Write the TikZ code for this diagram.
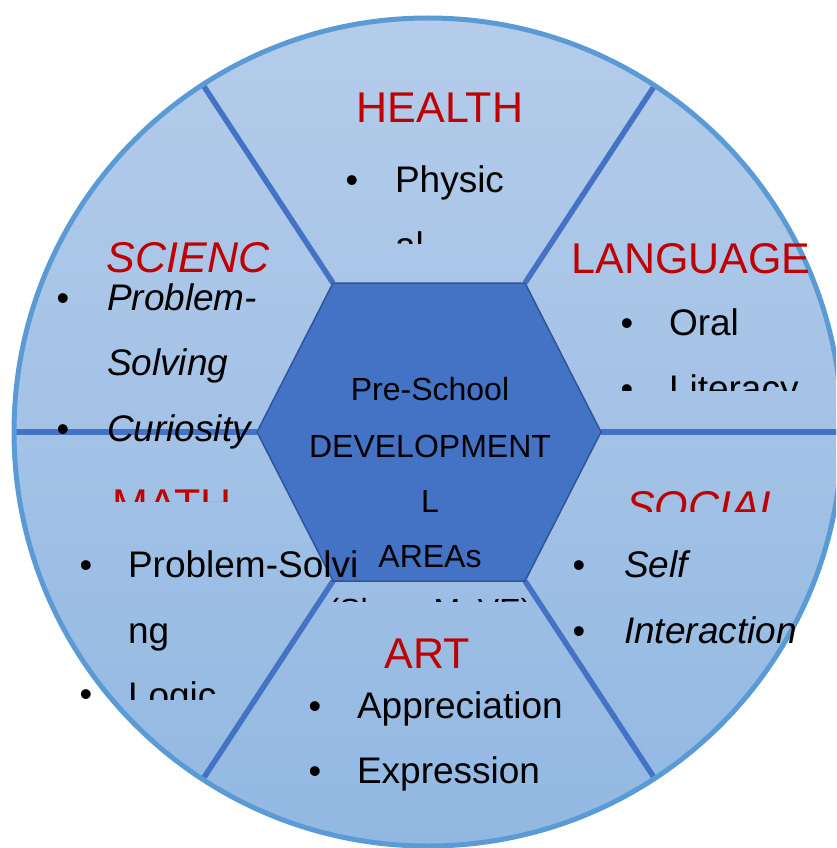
\documentclass[tikz,border=0pt]{standalone}
\usepackage{fontspec}
\setmainfont{Liberation Sans}
\usepackage{tikz}
\definecolor{area_red}{RGB}{192, 0, 0}
\definecolor{rim_blue}{RGB}{91, 155, 213}
\definecolor{line_blue}{RGB}{68, 114, 196}
\definecolor{hex_blue}{RGB}{68, 114, 196}
\definecolor{hex_edge}{RGB}{47, 85, 151}
\definecolor{fill_top}{RGB}{180, 204, 234}
\definecolor{fill_bottom}{RGB}{146, 184, 226}

\begin{document}
\begin{tikzpicture}[x=1pt, y=-1pt,
    every node/.style={inner sep=0pt, outer sep=0pt},
    areatitle/.style={anchor=base, text=area_red, font=\fontsize{43}{43}\selectfont},
    areaital/.style={areatitle, font=\fontsize{43}{43}\selectfont\itshape},
    areaitem/.style={anchor=base west, font=\fontsize{37}{37}\selectfont},
    areaslant/.style={areaitem, font=\fontsize{37}{37}\selectfont\itshape},
    areadot/.style={anchor=base, font=\fontsize{36}{36}\selectfont},
    centretext/.style={anchor=base, font=\fontsize{32}{32}\selectfont},
    divider/.style={line width=5.5pt, draw=line_blue}]

    \clip (0,0) rectangle (836,848);

    % Wheel
    \shade[top color=fill_top, bottom color=fill_bottom] (428,432) circle[radius=414pt];

    % Hexagon corners and rim points
    \foreach \n/\hx/\hy/\rx/\ry in {1/257/432/14/432, 2/333/283/203/85, 3/525/283/655/85,
                                   4/601/432/842/432, 5/525/581/655/779, 6/333/581/203/779} {
      \coordinate (h\n) at (\hx,\hy);
      \coordinate (r\n) at (\rx,\ry);
    }

    % Dividers
    \foreach \n in {1,...,6}
      \draw[divider] (h\n) -- (r\n);

    % Centre hexagon
    \draw[fill=hex_blue, draw=hex_edge, line width=1.5pt]
      (h1) -- (h2) -- (h3) -- (h4) -- (h5) -- (h6) -- cycle;

    % Rim
    \draw[rim_blue, line width=5pt] (428,432) circle[radius=414pt];

    % Centre text
    \node[centretext] (pre) at (430,400) {Pre-School};
    \node[centretext] (dev) at (430,457) {DEVELOPMENT};
    \node[centretext] (devl) at (430,512) {L};
    \node[centretext] (areas) at (430,567) {AREAs};
    \begin{scope}
      \clip (300,560) rectangle (560,601);
      \node[centretext] (sub) at (430,621) {(Share MoVE)};
    \end{scope}

    % Health
    \node[areatitle] (health) at (440,122) {HEALTH};
    \node[areadot] (hdot) at (352,192) {•};
    \node[areaitem] (phys) at (395,192) {Physic};
    \begin{scope}
      \clip (300,200) rectangle (600,243);
      \node[areaitem] (physb) at (395,258) {al};
    \end{scope}

    % Language
    \node[areatitle] (lang) at (691,273) {LANGUAGE};
    \node[areadot] (ldot1) at (627,335) {•};
    \node[areaitem] (oral) at (669,335) {Oral};
    \begin{scope}
      \clip (590,345) rectangle (836,390);
      \node[areadot] (ldot2) at (627,401) {•};
      \node[areaitem] (lit) at (669,401) {Literacy};
    \end{scope}

    % Science
    \node[areaital] (sci) at (188,272) {SCIENC};
    \node[areadot] (sdot1) at (63,310) {•};
    \node[areaslant] (prob) at (107,310) {Problem-};
    \node[areaslant] (solv) at (107,375) {Solving};
    \node[areadot] (sdot2) at (63,441) {•};
    \node[areaslant] (cur) at (107,441) {Curiosity};

    % Math
    \begin{scope}
      \clip (60,470) rectangle (300,501);
      \node[areatitle] (math) at (172,519) {MATH};
    \end{scope}
    \node[areadot] (mdot1) at (86,577) {•};
    \node[areaitem] (mprob) at (128,577) {Problem-Solvi};
    \node[areaitem] (mng) at (128,643) {ng};
    \begin{scope}
      \clip (40,660) rectangle (300,699);
      \node[areadot] (mdot2) at (86,706) {•};
      \node[areaitem] (logic) at (128,708) {Logic};
    \end{scope}

    % Social
    \begin{scope}
      \clip (600,470) rectangle (836,511);
      \node[areaital] (soc) at (705,521) {SOCIAL};
    \end{scope}
    \node[areadot] (odot1) at (579,577) {•};
    \node[areaslant] (self) at (624,577) {Self};
    \node[areadot] (odot2) at (579,643) {•};
    \node[areaslant] (inter) at (624,643) {Interaction};

    % Art
    \node[areatitle] (art) at (427,668) {ART};
    \node[areadot] (adot1) at (315,718) {•};
    \node[areaitem] (appr) at (357,718) {Appreciation};
    \node[areadot] (adot2) at (315,783) {•};
    \node[areaitem] (expr) at (357,783) {Expression};

  \end{tikzpicture}
\end{document}
